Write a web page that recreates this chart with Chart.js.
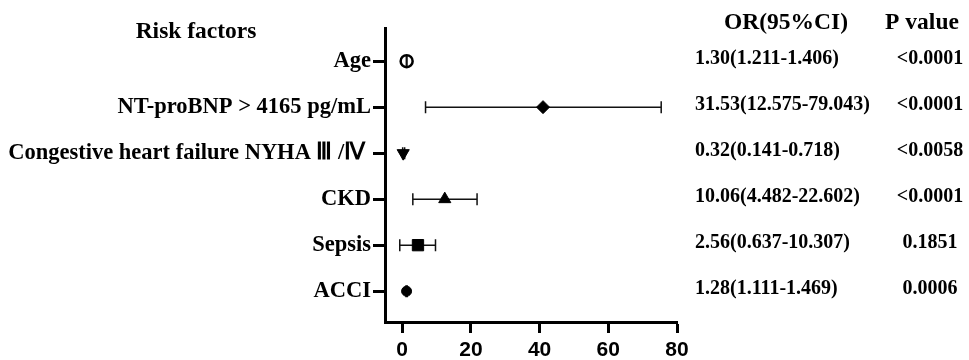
<!DOCTYPE html>
<html>
<head>
<meta charset="utf-8">
<title>Forest plot</title>
<script src="https://cdn.jsdelivr.net/npm/chart.js@4.4.0/dist/chart.umd.min.js"></script>
<style>
  html, body { margin: 0; padding: 0; background: #fff; }
  #wrap { width: 969px; height: 360px; }
</style>
</head>
<body>
<div id="wrap"><canvas id="forest" width="969" height="360"></canvas></div>
<script>
'use strict';

// ── Data ───────────────────────────────────────────────────────
const factors = ['Age', 'NT-proBNP > 4165 pg/mL', 'Congestive heart failure NYHA Ⅲ /Ⅳ ', 'CKD', 'Sepsis', 'ACCI'];
const orPoint = [1.30, 41.0, 0.30, 12.4, 4.6, 1.28];
const ciLow   = [1.211, 6.8, 0.141, 3.1, -0.7, 1.111];
const ciHigh  = [1.406, 75.4, 0.718, 21.8, 9.7, 1.469];
const orText  = ['1.30(1.211-1.406)', '31.53(12.575-79.043)', '0.32(0.141-0.718)', '10.06(4.482-22.602)', '2.56(0.637-10.307)', '1.28(1.111-1.469)'];
const pText   = ['<0.0001', '<0.0001', '<0.0058', '<0.0001', '0.1851', '0.0006'];
const xTicks  = [0, 20, 40, 60, 80];

const SERIF = '"Liberation Serif", "Times New Roman", serif';
const SANS  = '"Liberation Sans", Arial, sans-serif';

// error bars with caps, drawn under the markers
const errorBars = {
    id: 'errorBars',
    beforeDatasetsDraw(chart) {
        const { ctx, scales: { x, y } } = chart;
        ctx.save();
        ctx.strokeStyle = '#111';
        ctx.lineWidth = 1.5;
        factors.forEach((f, i) => {
            const py = y.getPixelForValue(i);
            const x0 = x.getPixelForValue(ciLow[i]);
            const x1 = x.getPixelForValue(ciHigh[i]);
            ctx.beginPath();
            ctx.moveTo(x0, py); ctx.lineTo(x1, py);
            ctx.moveTo(x0, py - 6); ctx.lineTo(x0, py + 6);
            ctx.moveTo(x1, py - 6); ctx.lineTo(x1, py + 6);
            ctx.stroke();
        });
        ctx.restore();
    }
};

// headers + OR / P value columns
const tableText = {
    id: 'tableText',
    afterDraw(chart) {
        const { ctx, scales: { y } } = chart;
        ctx.save();
        ctx.fillStyle = '#000';
        ctx.textBaseline = 'middle';
        ctx.font = `bold 23.5px ${SERIF}`;
        ctx.textAlign = 'center';
        ctx.fillText('Risk factors', 196, 32);
        ctx.fillText('OR(95%CI)', 786, 23);
        ctx.fillText('P value', 922, 23);

        ctx.font = `bold 20px ${SERIF}`;
        factors.forEach((f, i) => {
            const py = y.getPixelForValue(i) - 2;
            ctx.textAlign = 'left';
            ctx.fillText(orText[i], 695, py);
            ctx.textAlign = 'center';
            ctx.fillText(pText[i], 930, py);
        });
        ctx.restore();
    }
};

const ctx = document.getElementById('forest').getContext('2d');
new Chart(ctx, {
    type: 'scatter',
    data: {
        datasets: [{
            data: factors.map((f, i) => ({ x: orPoint[i], y: i })),
            pointStyle:      ['circle', 'rectRot', 'triangle', 'triangle', 'rect', 'circle'],
            pointRadius:     [6, 6.5, 7, 7, 8, 5],
            rotation:        [0, 0, 180, 0, 0, 0],
            backgroundColor: ['rgba(0,0,0,0)', '#000', '#000', '#000', '#000', '#000'],
            borderColor: '#000',
            borderWidth: [2.5, 1, 1, 1, 1, 1]
        }]
    },
    options: {
        responsive: false,
        animation: false,
        layout: { padding: { top: 28, right: 292, left: 0, bottom: 0 } },
        plugins: { legend: { display: false }, tooltip: { enabled: false } },
        scales: {
            x: {
                type: 'linear', min: -5, max: 80,
                afterBuildTicks: s => { s.ticks = xTicks.map(v => ({ value: v })); },
                afterFit: s => { s.height = 38; },
                grid: { drawOnChartArea: false, drawTicks: true, tickLength: 11, tickWidth: 3, tickColor: '#000' },
                border: { display: true, width: 3, color: '#000' },
                ticks: { color: '#000', padding: 5, maxRotation: 0, font: { family: SANS, size: 21, weight: 'bold' } }
            },
            y: {
                type: 'linear', reverse: true, min: -0.72, max: 5.67,
                afterBuildTicks: s => { s.ticks = factors.map((f, i) => ({ value: i })); },
                afterFit: s => { s.width = 385; },
                grid: { drawOnChartArea: false, drawTicks: true, tickLength: 12, tickWidth: 3, tickColor: '#000' },
                border: { display: true, width: 3, color: '#000' },
                ticks: { color: '#000', padding: 2, callback: v => factors[v], font: { family: SERIF, size: 22.5, weight: 'bold' } }
            }
        }
    },
    plugins: [errorBars, tableText]
});
</script>
</body>
</html>
